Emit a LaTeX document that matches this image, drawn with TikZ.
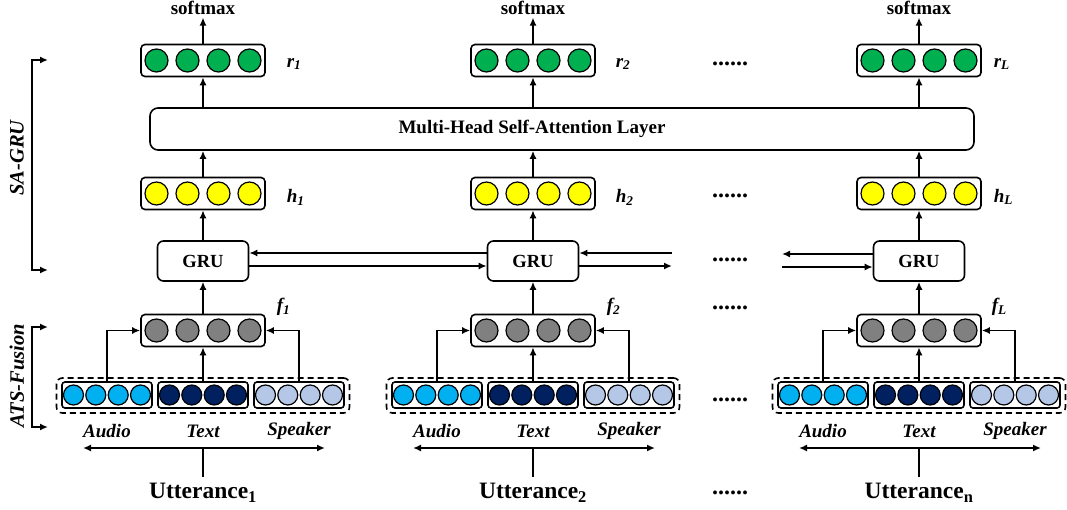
\documentclass[tikz,border=0pt]{standalone}
\usepackage{fontspec}
\setmainfont{Liberation Serif}
\usetikzlibrary{arrows.meta}
\definecolor{cgreen}{HTML}{00B050}
\definecolor{cyellow}{HTML}{FFFF00}
\definecolor{cgray}{HTML}{808080}
\definecolor{caudio}{HTML}{00B0F0}
\definecolor{ctext}{HTML}{002060}
\definecolor{cspk}{HTML}{B4C7E7}
\begin{document}
\begin{tikzpicture}[x=1pt,y=-1pt,line width=1.6pt,>={Latex[length=8pt,width=7pt]},
  vecbox/.style={draw,rounded corners=4pt,minimum width=124pt,minimum height=32pt,inner sep=0pt},
  grubox/.style={draw,rounded corners=6pt,minimum width=91pt,minimum height=40pt,font=\fontsize{18.5}{20}\selectfont\bfseries},
  inbox/.style={draw,rounded corners=3pt,minimum width=90pt,minimum height=26pt,inner sep=0pt},
  dashbox/.style={draw,dash pattern=on 6pt off 4pt,rounded corners=6pt,minimum width=293pt,minimum height=35pt,inner sep=0pt},
  bigc/.style={draw,circle,minimum size=23pt,inner sep=0pt,line width=1.2pt},
  smallc/.style={draw,circle,minimum size=20pt,inner sep=0pt,line width=1.2pt},
  lbl/.style={font=\fontsize{19}{22}\selectfont\bfseries\itshape,inner sep=1pt},
  sidelbl/.style={font=\fontsize{20.5}{22}\selectfont\bfseries\itshape,inner sep=1pt},
  bold/.style={font=\fontsize{19}{22}\selectfont\bfseries,inner sep=2pt},
  dotsty/.style={font=\fontsize{24}{24}\selectfont\bfseries,inner sep=0pt},
  uttsty/.style={font=\fontsize{23.5}{26}\selectfont\bfseries,inner sep=2pt}]
\useasboundingbox (0,0) rectangle (1067,510);

% attention layer
\node[draw,rounded corners=8pt,minimum width=824pt,minimum height=42pt,inner sep=0pt] (att) at (562,129) {};
\node[bold] (atttxt) at (532,129) {Multi-Head Self-Attention Layer};

\foreach \c/\i/\s/\u/\ro/\fo in {203/1/1/1/82/72, 533/2/2/2/81/72, 919/3/L/n/73/71}{
  % r row
  \node[vecbox] (r\i) at (\c,60.5) {};
  \foreach \k/\dx in {1/-46.5,2/-15.5,3/15.5,4/46.5}
    \node[bigc,fill=cgreen] (r\i c\k) at ({\c+(\dx)},60.5) {};
  \node[lbl,anchor=west] (rl\i) at ({\c+\ro},64) {r\textsubscript{\s}};
  \node[bold] (sm\i) at (\c,8) {softmax};
  \draw[->] (r\i.north) -- (sm\i.south);
  \draw[->] (att.north -| r\i) -- (r\i.south);
  % h row
  \node[vecbox] (h\i) at (\c,193.5) {};
  \foreach \k/\dx in {1/-46.5,2/-15.5,3/15.5,4/46.5}
    \node[bigc,fill=cyellow] (h\i c\k) at ({\c+(\dx)},193.5) {};
  \node[lbl,anchor=west] (hl\i) at ({\c+\ro},197) {h\textsubscript{\s}};
  \draw[->] (h\i.north) -- (att.south -| h\i);
  % GRU
  \node[grubox] (g\i) at (\c,261) {GRU};
  \draw[->] (g\i) -- (h\i);
  % f row
  \node[vecbox] (f\i) at (\c,330.5) {};
  \foreach \k/\dx in {1/-46.5,2/-15.5,3/15.5,4/46.5}
    \node[bigc,fill=cgray] (f\i c\k) at ({\c+(\dx)},330.5) {};
  \node[lbl,anchor=west] (fl\i) at ({\c+\fo},307) {f\textsubscript{\s}};
  \draw[->] (f\i) -- (g\i);
  % inputs
  \node[dashbox] (d\i) at (\c,395.5) {};
  \node[inbox] (a\i) at ({\c-96},395) {};
  \node[inbox] (t\i) at (\c,395) {};
  \node[inbox] (s\i) at ({\c+96},395) {};
  \foreach \k/\dx in {1/-33.5,2/-11.2,3/11.2,4/33.5}{
    \node[smallc,fill=caudio] (a\i c\k) at ({\c-96+(\dx)},395) {};
    \node[smallc,fill=ctext] (t\i c\k) at ({\c+(\dx)},395) {};
    \node[smallc,fill=cspk] (s\i c\k) at ({\c+96+(\dx)},395) {};
  }
  \draw[->] (t\i) -- (f\i);
  \draw[->] (a\i.north) |- (f\i.west);
  \draw[->] (s\i.north) |- (f\i.east);
  \node[lbl] (al\i) at ({\c-96},431) {Audio};
  \node[lbl] (tl\i) at (\c,431) {Text};
  \node[lbl] (spl\i) at ({\c+96},431) {Speaker};
  % utterance
  \coordinate (ul\i) at ({\c-120},448);
  \coordinate (ur\i) at ({\c+122},448);
  \coordinate (um\i) at (\c,448);
  \draw[<->] (ul\i) -- (ur\i);
  \node[uttsty] (u\i) at (\c,493) {Utterance\textsubscript{\u}};
  \draw (um\i) -- ([yshift=4pt]u\i.north);
}

% GRU recurrences
\draw[->] ([yshift=8pt]g2.west) -- ([yshift=8pt]g1.east);
\draw[->] ([yshift=-5pt]g1.east) -- ([yshift=-5pt]g2.west);
\coordinate (e2a) at (672,253);
\coordinate (e2b) at (672,266);
\draw[->] (e2a) -- ([yshift=8pt]g2.east);
\draw[->] ([yshift=-5pt]g2.east) -- (e2b);
\coordinate (e3a) at (782,254);
\coordinate (e3b) at (782,267);
\draw[->] ([yshift=7pt]g3.west) -- (e3a);
\draw[->] (e3b) -- ([yshift=-6pt]g3.west);

% dots
\node[dotsty] (dt1) at (730,64) {......};
\node[dotsty] (dt2) at (730,196) {......};
\node[dotsty] (dt3) at (730,260) {......};
\node[dotsty] (dt4) at (730,308) {......};
\node[dotsty] (dt5) at (730,400) {......};
\node[dotsty] (dt6) at (730,493) {......};

% side brackets
\coordinate (sa1) at (48,60);
\coordinate (sa2) at (32,60);
\coordinate (sa3) at (32,270);
\coordinate (sa4) at (48,270);
\draw[<->] (sa1) -- (sa2) -- (sa3) -- (sa4);
\coordinate (at1) at (48,327);
\coordinate (at2) at (32,327);
\coordinate (at3) at (32,427);
\coordinate (at4) at (48,427);
\draw[<->] (at1) -- (at2) -- (at3) -- (at4);
\node[sidelbl,rotate=90] (sagru) at (17,158) {SA-GRU};
\node[sidelbl,rotate=90] (atsf) at (17,376) {ATS-Fusion};
\end{tikzpicture}
\end{document}
